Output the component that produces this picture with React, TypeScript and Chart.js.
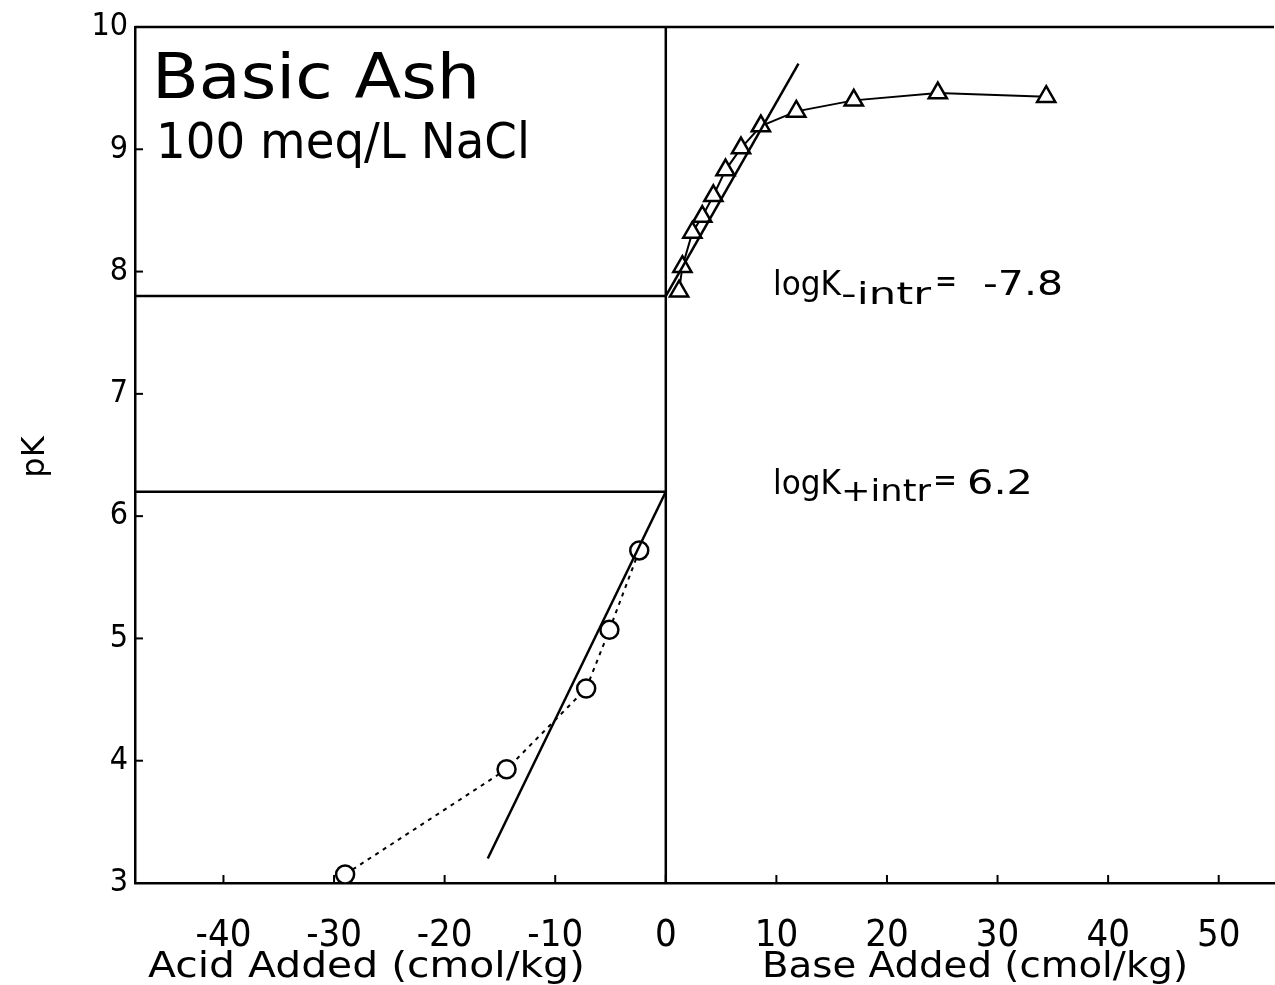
import React, { useEffect, useRef } from "react";
import { Chart, registerables } from "chart.js";

Chart.register(...registerables);

// ---- data ----
const acidX = [-29.0, -14.4, -7.2, -5.1, -2.4];
const acidPK = [3.07, 3.93, 4.59, 5.07, 5.72];

const baseX = [1.2, 1.5, 2.4, 3.3, 4.3, 5.4, 6.8, 8.6, 11.8, 17.0, 24.6, 34.4];
const basePK = [7.84, 8.04, 8.32, 8.45, 8.62, 8.83, 9.01, 9.19, 9.31, 9.4, 9.46, 9.43];

const acidFitX = [-16.1, 0];
const acidFitPK = [3.2, 6.2];
const baseFitX = [0, 12.0];
const baseFitPK = [7.8, 9.7];

const logKMinus = 7.8;
const logKPlus = 6.2;

const xMin = -48;
const xMax = 55;
const yMin = 3;
const yMax = 10;
const xTickValues = [-40, -30, -20, -10, 0, 10, 20, 30, 40, 50];
const yTickValues = [3, 4, 5, 6, 7, 8, 9, 10];

const TICK_FONT = "'Liberation Sans Narrow', 'DejaVu Sans Condensed', sans-serif";
const TEXT_FONT = "'DejaVu Sans', sans-serif";

const zip = (xs: number[], ys: number[]) => xs.map((x, i) => ({ x, y: ys[i] }));

function drawFit(ctx: CanvasRenderingContext2D, text: string, x: number, y: number, w: number, font: string) {
  ctx.save();
  ctx.font = font;
  const m = ctx.measureText(text).width;
  ctx.translate(x, y);
  ctx.scale(w / m, 1);
  ctx.textAlign = "left";
  ctx.textBaseline = "alphabetic";
  ctx.fillText(text, 0, 0);
  ctx.restore();
}

const decorPlugin = {
  id: "decor",
  afterDraw(chart: any) {
    const ctx: CanvasRenderingContext2D = chart.ctx;
    const { left, right, top, bottom } = chart.chartArea;
    const xs = chart.scales.x;
    const ys = chart.scales.y;
    ctx.save();
    ctx.strokeStyle = "#000";
    ctx.fillStyle = "#000";
    ctx.lineWidth = 2.5;
    // top border
    ctx.beginPath();
    ctx.moveTo(left, top);
    ctx.lineTo(right, top);
    ctx.stroke();
    // inner ticks
    ctx.lineWidth = 2;
    yTickValues.forEach((v) => {
      const py = ys.getPixelForValue(v);
      ctx.beginPath();
      ctx.moveTo(left, py);
      ctx.lineTo(left + 8, py);
      ctx.stroke();
    });
    xTickValues.forEach((v) => {
      const px = xs.getPixelForValue(v);
      ctx.beginPath();
      ctx.moveTo(px, bottom);
      ctx.lineTo(px, bottom - 8);
      ctx.stroke();
    });

    // texts
    drawFit(ctx, "Basic Ash", 152, 98, 328, `62px ${TEXT_FONT}`);
    drawFit(ctx, "100 meq/L NaCl", 156, 158, 374, `50px ${TEXT_FONT}`);

    // logK- intr
    drawFit(ctx, "logK", 773, 295, 68, `33px ${TEXT_FONT}`);
    drawFit(ctx, "-intr", 841, 304, 90, `30px ${TEXT_FONT}`);
    drawFit(ctx, "=", 935, 292, 22, `32px ${TEXT_FONT}`);
    drawFit(ctx, "-7.8", 983, 295, 80, `33px ${TEXT_FONT}`);

    drawFit(ctx, "logK", 773, 494, 68, `33px ${TEXT_FONT}`);
    drawFit(ctx, "+intr", 841, 501, 90, `30px ${TEXT_FONT}`);
    drawFit(ctx, "=", 933, 491, 24, `32px ${TEXT_FONT}`);
    drawFit(ctx, "6.2", 967, 494, 66, `33px ${TEXT_FONT}`);

    // axis titles
    drawFit(ctx, "Acid Added (cmol/kg)", 148, 977, 437, `35px ${TEXT_FONT}`);
    drawFit(ctx, "Base Added (cmol/kg)", 762, 977, 426, `35px ${TEXT_FONT}`);

    // pK rotated
    ctx.save();
    ctx.translate(44, 457);
    ctx.rotate(-Math.PI / 2);
    ctx.font = `32px ${TEXT_FONT}`;
    ctx.textAlign = "center";
    ctx.textBaseline = "alphabetic";
    ctx.fillText("pK", 0, 0);
    ctx.restore();

    ctx.restore();
  },
};

export default function App() {
  const ref = useRef<HTMLCanvasElement | null>(null);
  useEffect(() => {
    if (!ref.current) return;
    const black = "#000";
    const chart = new Chart(ref.current, {
      type: "scatter",
      data: {
        datasets: [
          {
            label: "ref-vertical",
            type: "line",
            data: [
              { x: 0, y: yMin },
              { x: 0, y: yMax },
            ],
            borderColor: black,
            borderWidth: 2.5,
            pointRadius: 0,
            showLine: true,
          },
          {
            label: "logK-",
            type: "line",
            data: [
              { x: xMin, y: logKMinus },
              { x: 0, y: logKMinus },
            ],
            borderColor: black,
            borderWidth: 2.5,
            pointRadius: 0,
          },
          {
            label: "logK+",
            type: "line",
            data: [
              { x: xMin, y: logKPlus },
              { x: 0, y: logKPlus },
            ],
            borderColor: black,
            borderWidth: 2.5,
            pointRadius: 0,
          },
          {
            label: "acid fit",
            type: "line",
            data: zip(acidFitX, acidFitPK),
            borderColor: black,
            borderWidth: 2.5,
            pointRadius: 0,
          },
          {
            label: "base fit",
            type: "line",
            data: zip(baseFitX, baseFitPK),
            borderColor: black,
            borderWidth: 2.5,
            pointRadius: 0,
          },
          {
            label: "acid",
            type: "line",
            data: zip(acidX, acidPK),
            borderColor: black,
            borderWidth: 2,
            borderDash: [4, 5],
            pointStyle: "circle",
            pointRadius: 9,
            pointBorderWidth: 2.5,
            pointBackgroundColor: "#fff",
            pointBorderColor: black,
          },
          {
            label: "base",
            type: "line",
            data: zip(baseX, basePK),
            borderColor: black,
            borderWidth: 2,
            pointStyle: "triangle",
            pointRadius: 10.5,
            pointBorderWidth: 2.5,
            pointBackgroundColor: "#fff",
            pointBorderColor: black,
          },
        ],
      },
      options: {
        responsive: false,
        animation: false,
        layout: { padding: { top: 27, right: 0, left: 0, bottom: 0 } },
        plugins: {
          legend: { display: false },
          tooltip: { enabled: false },
          title: { display: false },
        },
        scales: {
          x: {
            type: "linear",
            min: xMin,
            max: xMax,
            afterFit: (s: any) => {
              s.height = 102;
            },
            afterBuildTicks: (s: any) => {
              s.ticks = xTickValues.map((v) => ({ value: v }));
            },
            grid: { display: false, drawTicks: false },
            border: { display: true, color: black, width: 2.5 },
            ticks: {
              color: black,
              padding: 30,
              maxRotation: 0,
              autoSkip: false,
              font: { family: TICK_FONT, size: 38 },
              callback: (v: any) => String(v),
            },
          },
          y: {
            type: "linear",
            min: yMin,
            max: yMax,
            afterFit: (s: any) => {
              s.width = 135;
            },
            afterBuildTicks: (s: any) => {
              s.ticks = yTickValues.map((v) => ({ value: v }));
            },
            grid: { display: false, drawTicks: false },
            border: { display: true, color: black, width: 2.5 },
            ticks: {
              color: black,
              padding: 7,
              autoSkip: false,
              font: { family: TICK_FONT, size: 32 },
              callback: (v: any) => String(v),
            },
          },
        },
      },
      plugins: [decorPlugin],
    } as any);
    return () => chart.destroy();
  }, []);
  return (
    <div style={{ position: "absolute", left: 0, top: 0, width: 1275, height: 985, overflow: "hidden", background: "#fff" }}>
      <canvas ref={ref} width={1287} height={985} style={{ width: 1287, height: 985, display: "block" }} />
    </div>
  );
}
